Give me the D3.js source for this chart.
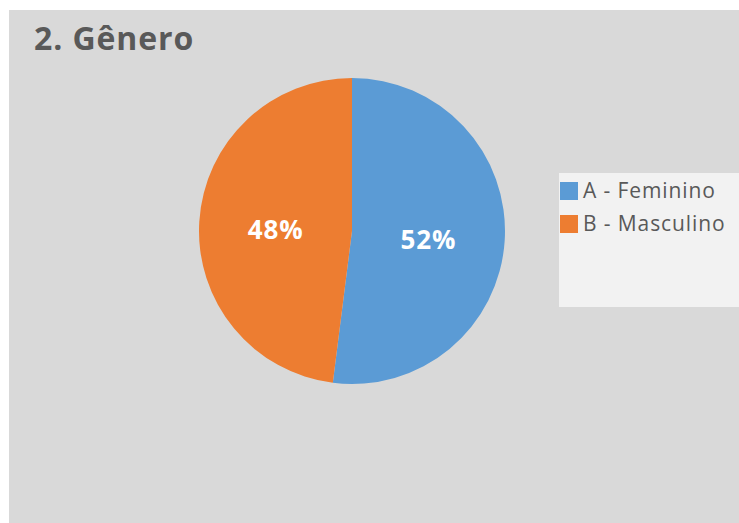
<!DOCTYPE html>
<html>
<head>
  <meta charset="utf-8">
  <script src="https://d3js.org/d3.v7.min.js"></script>
  <style>
    body { margin: 0; background: #fff; }
    text { font-family: "Open Sans", sans-serif; }
  </style>
</head>
<body>
  <div id="chart"></div>
  <script>
    // chart data
    var title = "2. Gênero";
    var categories = ["A - Feminino", "B - Masculino"];
    var values = [52, 48];

    var width = 739, height = 523;

    var svg = d3.select("#chart").append("svg")
      .attr("width", width)
      .attr("height", height);

    // chart area background
    svg.append("rect")
      .attr("x", 9).attr("y", 10)
      .attr("width", width - 9).attr("height", height - 10)
      .attr("fill", "#d9d9d9");

    svg.append("text")
      .attr("x", 34).attr("y", 50)
      .attr("fill", "#595959")
      .style("font-size", "32px")
      .style("font-weight", "bold")
      .style("letter-spacing", "0.9px")
      .text(title);

    var color = d3.scaleOrdinal()
      .domain(categories)
      .range(["#5b9bd5", "#ed7d31"]);

    var cx = 352, cy = 231, r = 153;

    var pie = d3.pie().sort(null).value(function(d) { return d.value; });
    var data = categories.map(function(c, i) { return {name: c, value: values[i]}; });
    var arcs = pie(data);

    var arc = d3.arc().innerRadius(0).outerRadius(r);
    var labelArc = d3.arc().innerRadius(r * 0.5).outerRadius(r * 0.5);

    var g = svg.append("g").attr("transform", "translate(" + cx + "," + cy + ")");

    g.selectAll("path")
      .data(arcs)
      .enter().append("path")
      .attr("d", arc)
      .attr("fill", function(d) { return color(d.data.name); });

    var total = d3.sum(values);
    g.selectAll("text.lbl")
      .data(arcs)
      .enter().append("text")
      .attr("class", "lbl")
      .attr("transform", function(d) {
        var p = labelArc.centroid(d);
        return "translate(" + p[0] + "," + (p[1] + 3) + ")";
      })
      .attr("text-anchor", "middle")
      .attr("dominant-baseline", "central")
      .attr("fill", "#fff")
      .style("font-size", "26px")
      .style("font-weight", "bold")
      .style("letter-spacing", "0.8px")
      .text(function(d) { return Math.round(d.data.value / total * 100) + "%"; });

    // legend box
    var legend = svg.append("g").attr("transform", "translate(559,173)");
    legend.append("rect")
      .attr("width", width - 559).attr("height", 134)
      .attr("fill", "#f2f2f2");

    var item = legend.selectAll("g.item")
      .data(categories)
      .enter().append("g")
      .attr("class", "item")
      .attr("transform", function(d, i) { return "translate(1," + (9 + i * 33) + ")"; });

    item.append("rect")
      .attr("width", 18).attr("height", 18)
      .attr("fill", function(d) { return color(d); });

    item.append("text")
      .attr("x", 23).attr("y", 16)
      .attr("fill", "#595959")
      .style("font-size", "21px")
      .style("letter-spacing", "0.9px")
      .text(function(d) { return d; });
  </script>
</body>
</html>
